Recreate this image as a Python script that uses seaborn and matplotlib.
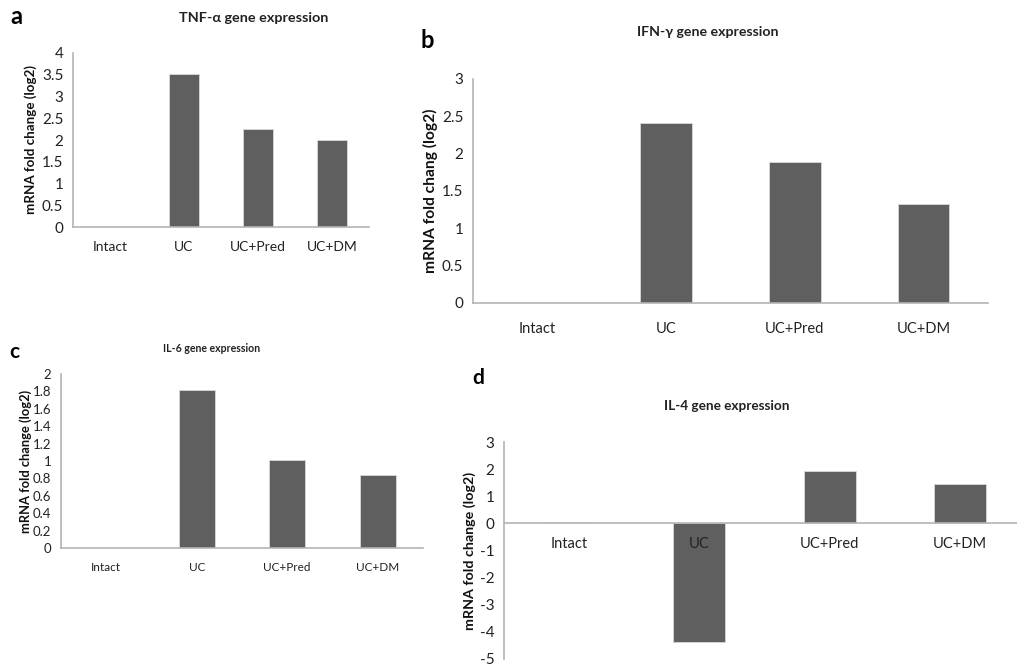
import numpy as np
import pandas as pd
import matplotlib
matplotlib.use("Agg")
import matplotlib.pyplot as plt
from matplotlib.ticker import MultipleLocator, FixedLocator, FuncFormatter
import seaborn as sns

groups = ["Intact", "UC", "UC+Pred", "UC+DM"]
tnf_values = [0, 3.52, 2.25, 2.0]
ifn_values = [0, 2.41, 1.89, 1.33]
il6_values = [0, 1.82, 1.01, 0.84]
il4_values = [0, -4.36, 1.93, 1.45]

sns.set_style("white")
plt.rcParams["font.family"] = ["Lato", "DejaVu Sans"]

BAR = "#5f5f5f"
AXIS = "#b4b4b4"
W, H = 1017, 667

fig = plt.figure(figsize=(W / 100, H / 100), dpi=100)


def px_axes(left, top, right, bottom):
    return fig.add_axes([left / W, 1 - bottom / H, (right - left) / W, (bottom - top) / H])


def gene_panel(ax, values, ylabel, ylim, step, tick_size, xlab_size, ylab_size, pad, zero_axis=False):
    df = pd.DataFrame({"group": groups, "value": values})
    sns.barplot(data=df, x="group", y="value", color=BAR, width=0.4, saturation=1,
                edgecolor="#d8d8d8", linewidth=0.6, ax=ax)
    for p in ax.patches:
        p.set_zorder(1)
    ax.set_axisbelow(False)
    ax.set_ylim(*ylim)
    ax.set_xlim(-0.5, 3.5)
    ax.yaxis.set_major_locator(MultipleLocator(step))
    ax.yaxis.set_major_formatter(FuncFormatter(lambda v, p: f"{v:g}"))
    ax.xaxis.set_minor_locator(FixedLocator([-0.5, 0.5, 1.5, 2.5, 3.5]))
    ax.tick_params(axis="x", which="major", length=0, pad=pad, labelsize=xlab_size, labelcolor="#222222")
    ax.tick_params(axis="x", which="minor", length=5, width=1, color=AXIS, direction="out")
    ax.tick_params(axis="y", length=4, width=1, color=AXIS, labelsize=tick_size, labelcolor="#222222", pad=3)
    sns.despine(ax=ax)
    for s in ["left", "bottom"]:
        ax.spines[s].set_color(AXIS)
        ax.spines[s].set_linewidth(1.2)
        ax.spines[s].set_zorder(2)
    if zero_axis:
        ax.spines["bottom"].set_position(("data", 0))
    ax.set_xlabel("")
    ax.set_ylabel(ylabel, fontsize=ylab_size, fontweight="bold", color="#111111")
    return ax


ax_a = px_axes(73, 53, 369, 227)
gene_panel(ax_a, tnf_values, "mRNA fold change (log2)", (0, 4), 0.5, 11, 10, 9.6, 10)
ax_a.yaxis.set_label_coords(-0.12, 0.5)

ax_b = px_axes(473, 79, 988, 303)
gene_panel(ax_b, ifn_values, "mRNA fold chang (log2)", (0, 3), 0.5, 11, 10.5, 11.2, 14)
ax_b.yaxis.set_label_coords(-0.068, 0.5)

ax_c = px_axes(61, 374, 423, 548)
gene_panel(ax_c, il6_values, "mRNA fold change (log2)", (0, 2), 0.2, 9.5, 8.5, 9.3, 10)
ax_c.yaxis.set_label_coords(-0.08, 0.5)

ax_d = px_axes(504, 442, 1025, 659)
gene_panel(ax_d, il4_values, "mRNA fold change (log2)", (-5, 3), 1, 11, 10.5, 10.3, 10, zero_axis=True)
ax_d.yaxis.set_label_coords(-0.054, 0.5)

# titles and panel letters, in figure pixels
def fig_text(x, y, s, **kw):
    fig.text(x / W, 1 - y / H, s, ha="center", va="center", **kw)

fig_text(254, 18, "TNF-α gene expression", fontsize=10.4, fontweight="bold", color="#222222")
fig_text(708, 32, "IFN-γ gene expression", fontsize=10.2, fontweight="bold", color="#222222")
fig_text(212, 349, "IL-6 gene expression", fontsize=7.6, fontweight="bold", color="#222222")
fig_text(727, 406, "IL-4 gene expression", fontsize=9.8, fontweight="bold", color="#222222")

fig_text(16, 16, "a", fontsize=17, fontweight="bold", color="black")
fig_text(427, 40, "b", fontsize=17, fontweight="bold", color="black")
fig_text(14, 352, "c", fontsize=15, fontweight="bold", color="black")
fig_text(478, 378, "d", fontsize=15, fontweight="bold", color="black")

fig.savefig("out.png", dpi=100)
